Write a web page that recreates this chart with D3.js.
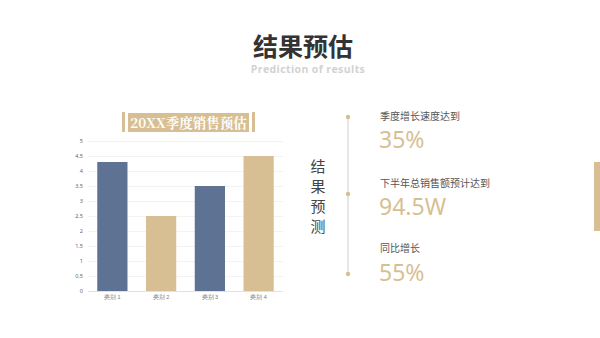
<!DOCTYPE html>
<html><head><meta charset="utf-8">
<script src="https://cdn.jsdelivr.net/npm/d3@7/dist/d3.min.js"></script>
<style>
html,body{margin:0;padding:0;background:#fff;}
svg{display:block;font-family:"Noto Sans CJK SC","Noto Sans",sans-serif;}
</style></head>
<body>
<svg id="c" width="600" height="338"></svg>
<script>
// Quarterly sales forecast
const categories = ["类别 1", "类别 2", "类别 3", "类别 4"];
const values = [4.3, 2.5, 3.5, 4.5];
const yTicks = [0, 0.5, 1, 1.5, 2, 2.5, 3, 3.5, 4, 4.5, 5];
const barColors = ["#5e7293", "#d8bf93", "#5e7293", "#d8bf93"];

// Forecast highlights
const statLabels = ["季度增长速度达到", "下半年总销售额预计达到", "同比增长"];
const statValues = ["35%", "94.5W", "55%"];
const sideTitle = ["结", "果", "预", "测"];

const svg = d3.select("#c");
const tan = "#d8bf93";

// Heading
svg.append("text").attr("x", 303).attr("y", 56).attr("text-anchor", "middle")
  .attr("font-size", 25).attr("font-weight", 700).attr("fill", "#333").text("结果预估");
svg.append("text").attr("x", 308).attr("y", 72.5).attr("text-anchor", "middle")
  .attr("font-family", "'Open Sans',sans-serif").attr("letter-spacing", 0.4)
  .attr("font-size", 10.5).attr("font-weight", 700).attr("fill", "#d2d2d2").text("Prediction of results");

// Chart title plate
svg.append("rect").attr("x", 122).attr("y", 112).attr("width", 3).attr("height", 20).attr("fill", tan);
svg.append("rect").attr("x", 252).attr("y", 112).attr("width", 3).attr("height", 20).attr("fill", tan);
svg.append("rect").attr("x", 128).attr("y", 113).attr("width", 121).attr("height", 19).attr("fill", tan);
svg.append("text").attr("x", 188.5).attr("y", 127.5).attr("text-anchor", "middle")
  .attr("font-family", "'Noto Serif CJK SC','Liberation Serif',serif")
  .attr("font-size", 13.5).attr("font-weight", 700).attr("fill", "#fff").text("20XX季度销售预估");

// Scales
const x = d3.scaleBand().domain(categories).range([88, 283]).paddingInner(0.38).paddingOuter(0.19);
const y = d3.scaleLinear().domain([0, 5]).range([291, 141]);

// Gridlines
svg.append("g").selectAll("line").data(yTicks).join("line")
  .attr("x1", 88).attr("x2", 283)
  .attr("y1", d => y(d) + 0.5).attr("y2", d => y(d) + 0.5)
  .attr("stroke", d => d === 0 ? "#d9d9d9" : "#f0f0f0").attr("stroke-width", 0.8);

// Y axis labels
const yAxis = d3.axisLeft(y).tickValues(yTicks).tickSize(0).tickPadding(0).tickFormat(d3.format("~g"));
const ya = svg.append("g").attr("transform", "translate(83,0)").call(yAxis);
ya.select(".domain").remove();
ya.selectAll("text").attr("font-size", 5.5).attr("fill", "#666").attr("font-family", "'Noto Sans',sans-serif");

// Bars
svg.append("g").selectAll("rect").data(values).join("rect")
  .attr("x", (d, i) => x(categories[i]))
  .attr("width", x.bandwidth())
  .attr("y", d => y(d))
  .attr("height", d => y(0) - y(d))
  .attr("fill", (d, i) => barColors[i]);

// X axis labels
const xAxis = d3.axisBottom(x).tickSize(0).tickPadding(0);
const xa = svg.append("g").attr("transform", "translate(0,295)").call(xAxis);
xa.select(".domain").remove();
xa.selectAll("text").attr("font-size", 5.5).attr("fill", "#777");

// Vertical side title
svg.append("g").selectAll("text").data(sideTitle).join("text")
  .attr("x", 318).attr("y", (d, i) => 172 + i * 20)
  .attr("text-anchor", "middle").attr("font-size", 15).attr("fill", "#444").text(d => d);

// Timeline
const dotY = [117, 194, 274];
svg.append("line").attr("x1", 348).attr("x2", 348).attr("y1", dotY[0]).attr("y2", dotY[2])
  .attr("stroke", "#dcd6d6").attr("stroke-width", 1.2);
svg.append("g").selectAll("circle").data(dotY).join("circle")
  .attr("cx", 348).attr("cy", d => d).attr("r", 2.2).attr("fill", tan);

// Highlights
const labelY = [120, 187, 252];
const valueY = [148, 215, 281];
svg.append("g").selectAll("text").data(statLabels).join("text")
  .attr("x", 380).attr("y", (d, i) => labelY[i])
  .attr("font-size", 10).attr("fill", "#555").text(d => d);
svg.append("g").selectAll("text").data(statValues).join("text")
  .attr("x", 379).attr("y", (d, i) => valueY[i])
  .attr("font-family", "'Noto Sans',sans-serif")
  .attr("font-size", 23).attr("fill", tan).text(d => d);

// Edge accent
svg.append("rect").attr("x", 594).attr("y", 162).attr("width", 6).attr("height", 69).attr("fill", tan);
</script>
</body></html>
